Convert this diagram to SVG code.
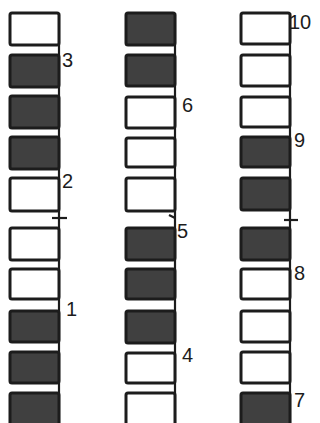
<svg xmlns="http://www.w3.org/2000/svg" width="320" height="423" viewBox="0 0 320 423">
<style>
.w{fill:#ffffff;stroke:#1c1c1c;stroke-width:3}
.d{fill:#404040;stroke:#1c1c1c;stroke-width:3}
.ln{stroke:#1c1c1c;stroke-width:2.2;fill:none}
.t{font-family:"Liberation Sans",Arial,sans-serif;font-size:20px;fill:#1c1c1c}
</style>
<rect width="320" height="423" fill="#ffffff"/>
<g id="connectors">
<line class="ln" x1="59" y1="13" x2="59" y2="423"/>
<line class="ln" x1="175" y1="13" x2="175" y2="423"/>
<line class="ln" x1="290" y1="13" x2="290" y2="423"/>
<line class="ln" x1="52" y1="218" x2="67" y2="218"/>
<line class="ln" x1="169" y1="215" x2="175" y2="218"/>
<line class="ln" x1="284" y1="220" x2="298" y2="220"/>
</g>
<g id="col1">
<g id="c1b1"><rect class="w" x="10" y="13" width="49" height="32" rx="2"/></g>
<g id="c1b2"><rect class="d" x="10" y="55" width="49" height="32" rx="2"/></g>
<g id="c1b3"><rect class="d" x="10" y="96" width="49" height="32" rx="2"/></g>
<g id="c1b4"><rect class="d" x="10" y="137" width="49" height="32" rx="2"/></g>
<g id="c1b5"><rect class="w" x="10" y="178" width="49" height="33" rx="2"/></g>
<g id="c1b6"><rect class="w" x="10" y="228" width="49" height="32" rx="2"/></g>
<g id="c1b7"><rect class="w" x="10" y="269" width="49" height="30" rx="2"/></g>
<g id="c1b8"><rect class="d" x="10" y="311" width="49" height="31" rx="2"/></g>
<g id="c1b9"><rect class="d" x="10" y="352" width="49" height="31" rx="2"/></g>
<g id="c1b10"><rect class="d" x="10" y="393" width="49" height="40" rx="2"/></g>
</g>
<g id="col2">
<g id="c2b1"><rect class="d" x="126" y="13" width="49" height="32" rx="2"/></g>
<g id="c2b2"><rect class="d" x="126" y="55" width="49" height="31" rx="2"/></g>
<g id="c2b3"><rect class="w" x="126" y="97" width="49" height="31" rx="2"/></g>
<g id="c2b4"><rect class="w" x="126" y="138" width="49" height="29" rx="2"/></g>
<g id="c2b5"><rect class="w" x="126" y="178" width="49" height="33" rx="2"/></g>
<g id="c2b6"><rect class="d" x="126" y="228" width="49" height="32" rx="2"/></g>
<g id="c2b7"><rect class="d" x="126" y="269" width="49" height="30" rx="2"/></g>
<g id="c2b8"><rect class="d" x="126" y="311" width="49" height="32" rx="2"/></g>
<g id="c2b9"><rect class="w" x="126" y="353" width="49" height="30" rx="2"/></g>
<g id="c2b10"><rect class="w" x="126" y="393" width="49" height="40" rx="2"/></g>
</g>
<g id="col3">
<g id="c3b1"><rect class="w" x="241" y="13" width="49" height="31" rx="2"/></g>
<g id="c3b2"><rect class="w" x="241" y="55" width="49" height="31" rx="2"/></g>
<g id="c3b3"><rect class="w" x="241" y="97" width="49" height="30" rx="2"/></g>
<g id="c3b4"><rect class="d" x="241" y="137" width="49" height="30" rx="2"/></g>
<g id="c3b5"><rect class="d" x="241" y="178" width="49" height="32" rx="2"/></g>
<g id="c3b6"><rect class="d" x="241" y="228" width="49" height="32" rx="2"/></g>
<g id="c3b7"><rect class="w" x="241" y="269" width="49" height="30" rx="2"/></g>
<g id="c3b8"><rect class="w" x="241" y="311" width="49" height="31" rx="2"/></g>
<g id="c3b9"><rect class="w" x="241" y="352" width="49" height="31" rx="2"/></g>
<g id="c3b10"><rect class="d" x="241" y="393" width="49" height="40" rx="2"/></g>
</g>
<g id="labels">
<text class="t" x="62" y="67">3</text>
<text class="t" x="62" y="188">2</text>
<text class="t" x="66" y="316">1</text>
<text class="t" x="182" y="112">6</text>
<text class="t" x="177" y="238">5</text>
<text class="t" x="182" y="362">4</text>
<text class="t" x="289" y="29">10</text>
<text class="t" x="294" y="147">9</text>
<text class="t" x="294" y="280">8</text>
<text class="t" x="294" y="407">7</text>
</g>
</svg>
